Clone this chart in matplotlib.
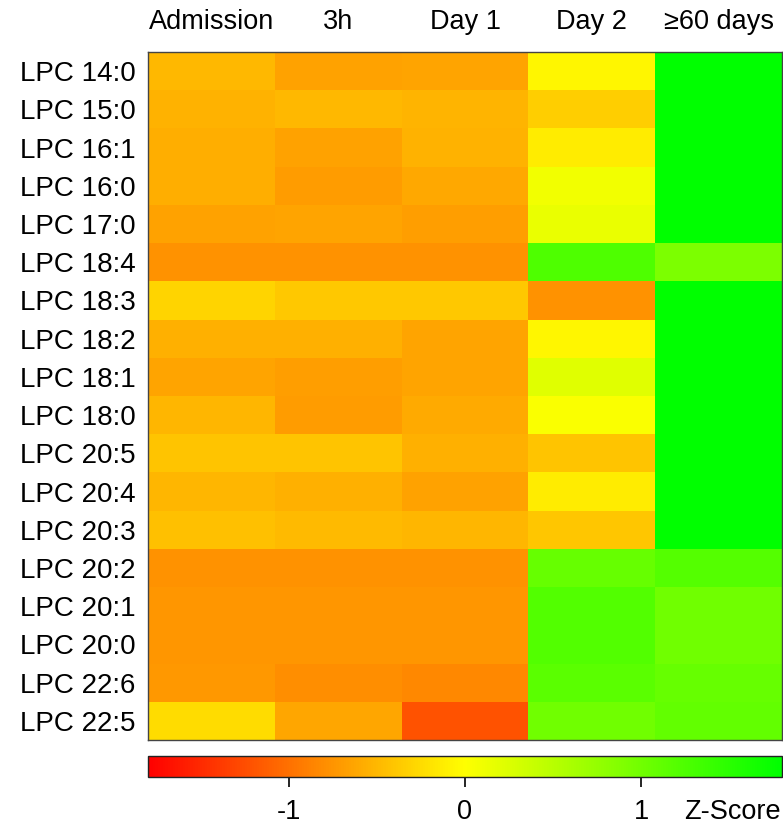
import numpy as np
import matplotlib
matplotlib.use("Agg")
import matplotlib.pyplot as plt
from matplotlib.colors import LinearSegmentedColormap, Normalize

plt.rcParams['font.family'] = ['Liberation Sans', 'DejaVu Sans']

timepoints = ["Admission", "3h", "Day 1", "Day 2", "\u226560 days"]
lipids = ["LPC 14:0", "LPC 15:0", "LPC 16:1", "LPC 16:0", "LPC 17:0", "LPC 18:4",
          "LPC 18:3", "LPC 18:2", "LPC 18:1", "LPC 18:0", "LPC 20:5", "LPC 20:4",
          "LPC 20:3", "LPC 20:2", "LPC 20:1", "LPC 20:0", "LPC 22:6", "LPC 22:5"]

admission = [-0.50, -0.54, -0.57, -0.57, -0.66, -0.76, -0.30, -0.55, -0.64, -0.52,
             -0.42, -0.52, -0.44, -0.76, -0.74, -0.74, -0.73, -0.24]
h3 = [-0.66, -0.50, -0.66, -0.70, -0.64, -0.76, -0.38, -0.55, -0.68, -0.69,
      -0.42, -0.55, -0.49, -0.76, -0.74, -0.74, -0.79, -0.63]
day1 = [-0.64, -0.53, -0.54, -0.61, -0.68, -0.76, -0.38, -0.64, -0.64, -0.60,
        -0.55, -0.65, -0.52, -0.76, -0.74, -0.74, -0.83, -1.21]
day2 = [-0.06, -0.35, -0.14, 0.09, 0.15, 1.24, -0.76, -0.06, 0.22, 0.04,
        -0.42, -0.14, -0.40, 1.08, 1.22, 1.22, 1.16, 1.00]
days60 = [1.80, 1.80, 1.80, 1.80, 1.80, 0.92, 1.80, 1.80, 1.80, 1.80,
          1.80, 1.80, 1.80, 1.20, 1.00, 1.00, 1.08, 1.11]

cbar_ticks = [-1, 0, 1]
vmin, vmax = -1.8, 1.8

data = np.array([admission, h3, day1, day2, days60]).T

cmap = LinearSegmentedColormap.from_list("ryg", ["#FF0000", "#FFFF00", "#00FF00"])
norm = Normalize(vmin=vmin, vmax=vmax)

W, H = 783, 826
FS = 19
fig = plt.figure(figsize=(W / 100, H / 100), dpi=100)

ax = fig.add_axes([148 / W, 1 - 740 / H, 634 / W, 688 / H])
mesh = ax.pcolormesh(data, cmap=cmap, norm=norm)
ax.set_xlim(0, len(timepoints))
ax.set_ylim(len(lipids), 0)
ax.set_xticks(np.arange(len(timepoints)) + 0.5)
ax.set_xticklabels(timepoints, fontsize=19.5)
ax.xaxis.tick_top()
ax.set_yticks(np.arange(len(lipids)) + 0.5)
ax.set_yticklabels(lipids, fontsize=20)
ax.tick_params(axis='both', length=0)
ax.tick_params(axis='x', pad=12)
ax.tick_params(axis='y', pad=9)
for s in ax.spines.values():
    s.set_color('#444444')
    s.set_linewidth(1.0)

cax = fig.add_axes([148 / W, 1 - 777 / H, 634 / W, 21 / H])
cb = fig.colorbar(mesh, cax=cax, orientation='horizontal')
cb.set_ticks(cbar_ticks)
cb.set_ticklabels(["-1", "0", "1"])
cb.ax.tick_params(labelsize=19.5, length=7, width=1.2, pad=9, direction='out')
cb.outline.set_linewidth(1.0)
cb.outline.set_edgecolor('#222222')
fig.text(781 / W, 1 - 812 / H, "Z-Score", fontsize=19.5, ha='right', va='center')

fig.savefig("out.png", dpi=100)
